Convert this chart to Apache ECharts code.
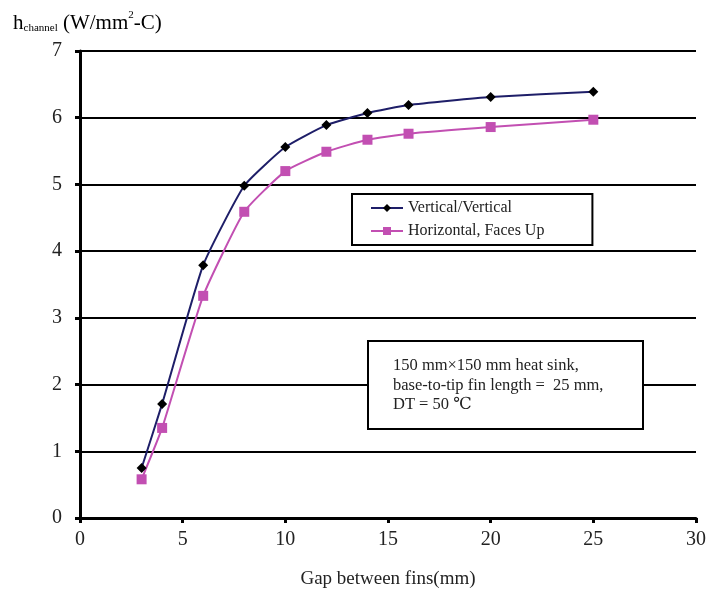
<!DOCTYPE html>
<html>
<head>
<meta charset="utf-8">
<script src="https://cdn.jsdelivr.net/npm/echarts@6/dist/echarts.min.js"></script>
<style>
  html, body { margin: 0; padding: 0; background: #fff; }
  #main { width: 709px; height: 594px; }
</style>
</head>
<body>
<div id="main"></div>
<script>
const gaps = [3, 4, 6, 8, 10, 12, 14, 16, 20, 25];
const verticalVertical = [0.75, 1.71, 3.79, 4.98, 5.56, 5.89, 6.07, 6.19, 6.31, 6.39];
const horizontalFacesUp = [0.58, 1.35, 3.33, 4.59, 5.20, 5.49, 5.67, 5.76, 5.86, 5.97];
const seriesNames = ['Vertical/Vertical', 'Horizontal, Faces Up'];
const noteLines = [
    '150 mm\u00D7150 mm heat sink,',
    'base-to-tip fin length =  25 mm,',
    'DT = 50 \u2103'
];

const FONT = '"Liberation Serif", "DejaVu Serif", serif';

const chart = echarts.init(document.getElementById('main'));

const pairs = (ys) => gaps.map((x, i) => [x, ys[i]]);

const option = {
    backgroundColor: '#fff',
    animation: false,
    grid: { left: 80, right: 12, top: 51, bottom: 76 },
    xAxis: {
        type: 'value',
        min: 0, max: 30, interval: 5,
        name: 'Gap between fins(mm)',
        nameLocation: 'middle',
        nameGap: 52,
        nameTextStyle: { fontFamily: FONT, fontSize: 19, color: '#222' },
        axisLine: { lineStyle: { color: '#000', width: 3 } },
        axisTick: { show: true, length: 5, lineStyle: { color: '#000', width: 3 } },
        axisLabel: { fontFamily: FONT, fontSize: 20, color: '#222', margin: 12 },
        splitLine: { show: false }
    },
    yAxis: {
        type: 'value',
        min: 0, max: 7, interval: 1,
        axisLine: { show: true, lineStyle: { color: '#000', width: 3 } },
        axisTick: { show: true, length: 5, lineStyle: { color: '#000', width: 3 } },
        axisLabel: { fontFamily: FONT, fontSize: 20, color: '#222', margin: 18, padding: [8, 0, 0, 0] },
        splitLine: { show: true, lineStyle: { color: '#000', width: 2 } }
    },
    legend: {
        orient: 'vertical',
        left: 352, top: 194,
        padding: [6, 48, 6, 18],
        itemGap: 7,
        itemWidth: 32,
        itemHeight: 10,
        borderColor: '#000',
        borderWidth: 2,
        backgroundColor: '#fff',
        textStyle: { fontFamily: FONT, fontSize: 16, color: '#222' },
        data: seriesNames
    },
    series: [
        {
            name: seriesNames[0],
            type: 'line',
            smooth: 0.15,
            data: pairs(verticalVertical),
            symbol: 'diamond',
            symbolSize: 10,
            lineStyle: { color: '#1e1e68', width: 2 },
            itemStyle: { color: '#000' },
            z: 3
        },
        {
            name: seriesNames[1],
            type: 'line',
            smooth: 0.15,
            data: pairs(horizontalFacesUp),
            symbol: 'rect',
            symbolSize: 10,
            lineStyle: { color: '#c24fb2', width: 2 },
            itemStyle: { color: '#c24fb2' },
            z: 2
        }
    ],
    graphic: [
        {
            type: 'text',
            left: 13, top: 8,
            style: {
                text: '{h|h}{sub|channel}{n| (W/mm}{sup|2}{n|-C)}',
                rich: {
                    h: { fontFamily: FONT, fontSize: 21, color: '#222', lineHeight: 26, verticalAlign: 'bottom' },
                    n: { fontFamily: FONT, fontSize: 21, color: '#222', lineHeight: 26, verticalAlign: 'bottom' },
                    sub: { fontFamily: FONT, fontSize: 11, color: '#222', lineHeight: 26, verticalAlign: 'bottom' },
                    sup: { fontFamily: FONT, fontSize: 11, color: '#222', lineHeight: 26, verticalAlign: 'top', padding: [2, 0, 0, 0] }
                }
            }
        },
        {
            type: 'rect',
            left: 367, top: 340,
            z: 100,
            shape: { x: 0, y: 0, width: 275, height: 88 },
            style: { fill: '#fff', stroke: '#000', lineWidth: 2 }
        },
        {
            type: 'text',
            left: 393, top: 356,
            z: 101,
            style: {
                text: noteLines.join('\n'),
                fontFamily: FONT,
                fontSize: 16.5,
                lineHeight: 19.5,
                fill: '#222'
            }
        }
    ]
};

chart.setOption(option);
</script>
</body>
</html>
